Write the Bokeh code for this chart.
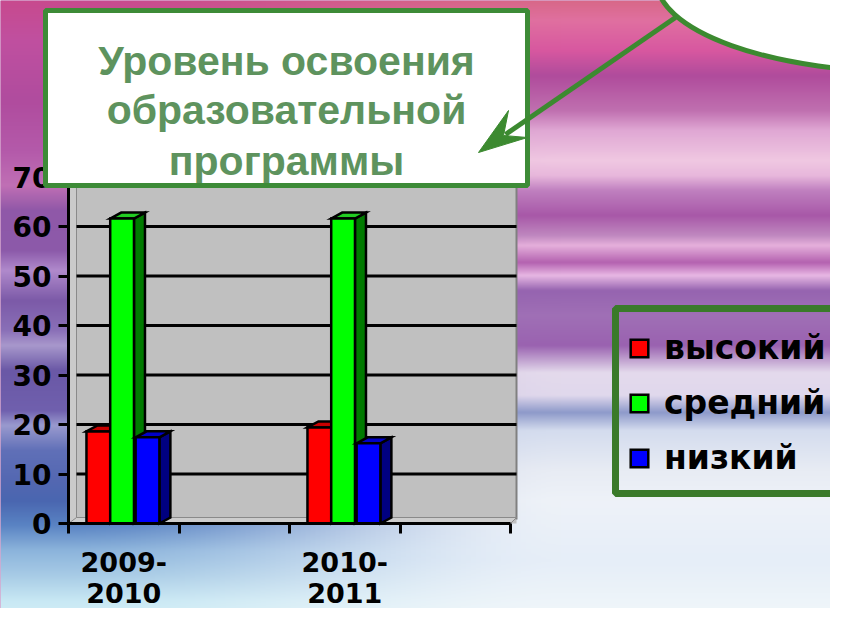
import numpy as np
from bokeh.plotting import figure
from bokeh.models import Range1d, LinearAxis, FixedTicker, Legend, LegendItem
from bokeh.core.properties import value
from bokeh.embed import file_html
from bokeh.resources import INLINE

# ---------------- data ----------------
categories = ["2009-2010", "", "2010-2011", ""]
category_labels = ["2009-\n2010", "", "2010-\n2011", ""]
series_names = ["высокий", "средний", "низкий"]
vysokiy = [18.6, None, 19.4, None]
sredniy = [61.6, None, 61.6, None]
nizkiy = [17.4, None, 16.2, None]
y_ticks = [0, 10, 20, 30, 40, 50, 60, 70]
title_lines = ["Уровень освоения", "образовательной", "программы"]

series_values = [vysokiy, sredniy, nizkiy]
front_colors = ["#FF0000", "#00FF00", "#0000FF"]
top_colors = ["#C80000", "#22CC22", "#0000C8"]
side_colors = ["#900000", "#007A00", "#000080"]
offsets = [0.27, 0.485, 0.715]
bar_w = 0.215

# ---------------- geometry ----------------
W, H = 830, 608
OFF = 0                   # page offset of the canvas
X0, SX = 68.0, 110.5      # canvas px of x=0, px per category
Y0, SY = 523.0, 4.95      # canvas px (from top) of y=0, px per unit


def X(px):  # picture px -> data x
    return (px - OFF - X0) / SX


def Y(py):  # picture px -> data y
    return (Y0 - (py - OFF)) / SY


def LX(d):
    return d / SX


def LY(d):
    return d / SY


xr = Range1d(-X0 / SX, (W - X0) / SX)
yr = Range1d(-(H - Y0) / SY, Y0 / SY)

p = figure(width=W, height=H, x_range=xr, y_range=yr, output_backend="svg",
           toolbar_location=None, x_axis_location=None, y_axis_location=None,
           min_border=0, min_border_left=0, min_border_right=0,
           min_border_top=0, min_border_bottom=0)
p.outline_line_color = None
p.xgrid.visible = False
p.ygrid.visible = False
p.background_fill_color = "#B050A0"
p.border_fill_color = "#B050A0"

# ---------------- background ----------------
left_stops = [(0, "#C84A8E"), (40, "#C050A0"), (100, "#B04C9E"), (150, "#B45AAA"),
              (185, "#C070B5"), (210, "#9058A8"), (250, "#8C5AAA"), (270, "#B08ACC"),
              (300, "#7C5AA8"), (330, "#8A70B8"), (345, "#A898CC"), (370, "#6A58A6"),
              (410, "#7060AE"), (425, "#9A9ACF"), (450, "#6070B8"), (480, "#5468B2"),
              (500, "#4A66B0"), (525, "#5A84C4"), (550, "#8CB4DC"), (575, "#A8CCE6"),
              (600, "#C8E8F4"), (624, "#D8F2F8")]
right_stops = [(0, "#D86888"), (20, "#E070A0"), (50, "#D858A0"), (75, "#B04C9C"),
               (110, "#C070B0"), (130, "#E0A8D4"), (160, "#F0C8E2"), (175, "#E8B8DC"),
               (190, "#C080C0"), (215, "#A858A8"), (235, "#C088C0"), (245, "#E6B0DC"),
               (262, "#B462B0"), (275, "#E8B8E4"), (290, "#9664B0"), (315, "#A070B6"),
               (345, "#9A62B0"), (372, "#E4DAEC"), (395, "#E0D8EC"), (412, "#8E9ACA"),
               (430, "#D4DCEE"), (470, "#E8ECF4"), (500, "#EEF2F8"), (560, "#E6EEF8"),
               (624, "#F2F8FA")]


def hex2rgb(h):
    return [int(h[i:i + 2], 16) for i in (1, 3, 5)]


def col(stops, ys):
    sy = np.array([s[0] for s in stops], float)
    c = np.array([hex2rgb(s[1]) for s in stops], float)
    return np.stack([np.interp(ys, sy, c[:, k]) for k in range(3)], axis=1)


NW = 166
ys = np.arange(H) + OFF + 0.5
xs = OFF + (np.arange(NW) + 0.5) * (W / NW)
cl = col(left_stops, ys)
cr = col(right_stops, ys)
t = np.clip((xs - 60) / (560 - 60), 0, 1)
t = t * t * (3 - 2 * t)
rgb = cl[:, None, :] * (1 - t[None, :, None]) + cr[:, None, :] * t[None, :, None]
img = np.empty((H, NW, 4), dtype=np.uint8)
img[:, :, :3] = np.clip(rgb, 0, 255).astype(np.uint8)
img[:, :, 3] = 255
img = img[::-1].copy()
p.image_rgba(image=[img.view(np.uint32).reshape(H, NW)], x=xr.start, y=yr.start,
             dw=xr.end - xr.start, dh=yr.end - yr.start, level="image")

# ---------------- walls ----------------
p.quad(left=X(68), right=X(516), bottom=Y(523), top=Y(168), fill_color="#C0C0C0",
       line_color=None)
p.patch([X(69), X(69), X(76), X(76)], [Y(523), Y(168), Y(164), Y(518)],
        fill_color="#CACACA", line_color="#8A8A8A", line_width=1)
p.segment(x0=[X(516)], y0=[Y(168)], x1=[X(516)], y1=[Y(519)], line_color="#808080",
          line_width=2)
p.patch([X(68), X(510), X(516), X(76)], [Y(523), Y(523), Y(517), Y(517)],
        fill_color="#CDCDCD", line_color="#8A8A8A", line_width=1)

grid_vals = [v for v in y_ticks if v > 0]
p.segment(x0=[X(76)] * len(grid_vals), y0=grid_vals, x1=[X(516)] * len(grid_vals),
          y1=grid_vals, line_color="black", line_width=3)

# ---------------- 3D bars ----------------
ddx, ddy = LX(11), LY(6)
front_renderers = []
for s, vals in enumerate(series_values):
    idx = [i for i, v in enumerate(vals) if v is not None]
    lefts = [i + offsets[s] - bar_w / 2 for i in idx]
    rights = [i + offsets[s] + bar_w / 2 for i in idx]
    tops = [vals[i] for i in idx]
    side_xs = [[r, r, r + ddx, r + ddx] for r in rights]
    side_ys = [[0, v, v + ddy, ddy] for v in tops]
    top_xs = [[l, l + ddx, r + ddx, r] for l, r in zip(lefts, rights)]
    top_ys = [[v, v + ddy, v + ddy, v] for v in tops]
    p.patches(side_xs, side_ys, fill_color=side_colors[s], line_color="black",
              line_width=2.5, line_join="miter")
    p.patches(top_xs, top_ys, fill_color=top_colors[s], line_color="black",
              line_width=2.5, line_join="miter")
    r = p.quad(left=lefts, right=rights, bottom=[0] * len(idx), top=tops,
               fill_color=front_colors[s], line_color="black", line_width=2.5,
               line_join="miter")
    front_renderers.append(r)

# ---------------- axes ----------------
yax = LinearAxis(fixed_location=0, bounds=(0, 70), ticker=FixedTicker(ticks=y_ticks))
yax.axis_line_width = 3
yax.major_tick_line_width = 3
yax.major_tick_out = 10
yax.major_tick_in = 0
yax.minor_tick_line_color = None
yax.major_label_standoff = 7
yax.major_label_text_font = "DejaVu Sans"
yax.major_label_text_font_style = "bold"
yax.major_label_text_font_size = "28px"
yax.major_label_text_color = "black"
p.add_layout(yax, "left")

n_cat = len(categories)
xax = LinearAxis(fixed_location=0, bounds=(0, n_cat),
                 ticker=FixedTicker(ticks=list(range(n_cat + 1))))
xax.major_label_overrides = {i: "" for i in range(n_cat + 1)}
xax.axis_line_width = 3
xax.major_tick_line_width = 3
xax.major_tick_out = 10
xax.major_tick_in = 0
xax.minor_tick_line_color = None
p.add_layout(xax, "below")

lab_pos = [i + 0.5 for i, c in enumerate(categories) if c]
xlab = LinearAxis(fixed_location=0, bounds=(0, n_cat), ticker=FixedTicker(ticks=lab_pos))
xlab.major_label_overrides = {i + 0.5: category_labels[i] for i, c in enumerate(categories) if c}
xlab.axis_line_color = None
xlab.major_tick_line_color = None
xlab.minor_tick_line_color = None
xlab.major_label_standoff = 17
xlab.major_label_text_font = "DejaVu Sans"
xlab.major_label_text_font_style = "bold"
xlab.major_label_text_font_size = "27px"
xlab.major_label_text_line_height = 1.0
xlab.major_label_text_color = "black"
p.add_layout(xlab, "below")

# ---------------- legend ----------------
p.quad(left=X(615), right=X(880), bottom=Y(493), top=Y(308), fill_color=None,
       line_color="#3A7A2A", line_width=7, level="annotation")
legend = Legend(items=[LegendItem(label=n, renderers=[r]) for n, r in zip(series_names, front_renderers)],
                location=(628, 131), orientation="vertical", glyph_width=22, glyph_height=22,
                label_standoff=14, spacing=16, padding=0, margin=0,
                label_text_font="DejaVu Sans", label_text_font_style="bold",
                label_text_font_size="33px", label_text_color="black",
                border_line_color=None, background_fill_alpha=0)
p.add_layout(legend)

# ---------------- title box, bubble, arrow ----------------
p.quad(left=X(45), right=X(527), bottom=Y(185), top=Y(10), fill_color="white",
       line_color="#3D8B37", line_width=5, level="overlay")
p.text(x=[X(286)] * 3, y=[Y(60), Y(109), Y(160)], text=title_lines,
       text_align="center", text_baseline="alphabetic",
       text_font=value("Liberation Sans"), text_font_style="bold",
       text_font_size="41px", text_color="#5E935E", level="overlay")
p.ellipse(x=[X(912)], y=[Y(-20)], width=[LX(512)], height=[LY(184)], fill_color="white",
          line_color="#3C8A30", line_width=5, level="overlay")
p.segment(x0=[X(675)], y0=[Y(17)], x1=[X(505)], y1=[Y(134)], line_color="#3C8A30",
          line_width=5, level="overlay")
p.patch([X(478), X(508), X(503), X(527)], [Y(152), Y(110), Y(135), Y(137)],
        fill_color="#3C8A30", line_color="#3C8A30", line_width=1, level="overlay")

open("out.html", "w").write(file_html(p, INLINE))
